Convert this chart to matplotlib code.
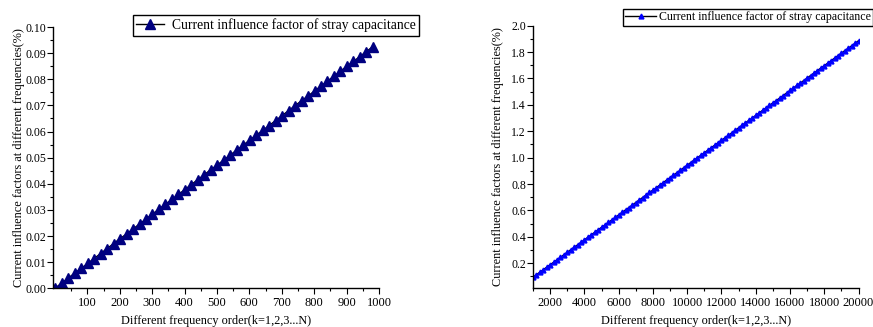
import matplotlib
matplotlib.use("Agg")
import matplotlib.pyplot as plt
from matplotlib.ticker import FixedLocator, MultipleLocator, FormatStrFormatter

plt.rcParams["font.family"] = ["Liberation Serif", "DejaVu Serif"]

LEGEND_LABEL = "Current influence factor of stray capacitance"
X_LABEL = "Different frequency order(k=1,2,3...N)"
Y_LABEL = "Current influence factors at different frequencies(%)"

# left panel: low orders
low_k = list(range(1, 1000, 20))
low_factor = [
    0.0001, 0.0020, 0.0039, 0.0058, 0.0076, 0.0095, 0.0114, 0.0133, 0.0152, 0.0171,
    0.0190, 0.0208, 0.0227, 0.0246, 0.0265, 0.0284, 0.0303, 0.0322, 0.0340, 0.0359,
    0.0378, 0.0397, 0.0416, 0.0435, 0.0454, 0.0472, 0.0491, 0.0510, 0.0529, 0.0548,
    0.0567, 0.0586, 0.0604, 0.0623, 0.0642, 0.0661, 0.0680, 0.0699, 0.0718, 0.0736,
    0.0755, 0.0774, 0.0793, 0.0812, 0.0831, 0.0850, 0.0868, 0.0887, 0.0906, 0.0925,
]

# right panel: high orders
high_k = list(range(1000, 20001, 200))
high_factor = [
    0.094, 0.113, 0.132, 0.151, 0.170, 0.189, 0.207, 0.226, 0.245, 0.264,
    0.283, 0.302, 0.321, 0.339, 0.358, 0.377, 0.396, 0.415, 0.434, 0.453,
    0.472, 0.490, 0.509, 0.528, 0.547, 0.566, 0.585, 0.604, 0.622, 0.641,
    0.660, 0.679, 0.698, 0.717, 0.736, 0.754, 0.773, 0.792, 0.811, 0.830,
    0.849, 0.868, 0.886, 0.905, 0.924, 0.943, 0.962, 0.981, 1.000, 1.018,
    1.037, 1.056, 1.075, 1.094, 1.113, 1.132, 1.150, 1.169, 1.188, 1.207,
    1.226, 1.245, 1.264, 1.282, 1.301, 1.320, 1.339, 1.358, 1.377, 1.396,
    1.415, 1.433, 1.452, 1.471, 1.490, 1.509, 1.528, 1.547, 1.565, 1.584,
    1.603, 1.622, 1.641, 1.660, 1.679, 1.697, 1.716, 1.735, 1.754, 1.773,
    1.792, 1.811, 1.829, 1.848, 1.867, 1.886,
]

W, H = 873, 327
fig = plt.figure(figsize=(W / 100, H / 100), dpi=100)


def style_axes(ax):
    for side in ("top", "right"):
        ax.spines[side].set_visible(False)
    for side in ("left", "bottom"):
        ax.spines[side].set_linewidth(1.0)
    ax.tick_params(which="major", direction="out", length=4, width=0.8, labelsize=9.0, pad=2)
    ax.tick_params(axis="y", which="major", labelsize=8.5, pad=1)
    ax.tick_params(which="minor", direction="out", length=2, width=0.8)
    ax.set_xlabel(X_LABEL, fontsize=8.8, labelpad=4.5)
    ax.set_ylabel(Y_LABEL, fontsize=8.8)
    ax.yaxis.set_label_coords(-0.088, 0.5)


ax1 = fig.add_axes([53.3 / W, 1 - 288.3 / H, (379 - 53.3) / W, (288.3 - 27) / H])
ax1.plot(low_k, low_factor, color="black", lw=1.0, marker="^", markersize=7.5,
         markerfacecolor="#000080", markeredgecolor="#000080", label=LEGEND_LABEL)
ax1.set_xlim(-5, 1000)
ax1.set_ylim(0, 0.10)
ax1.xaxis.set_major_locator(FixedLocator(list(range(100, 1001, 100))))
ax1.xaxis.set_minor_locator(FixedLocator(list(range(50, 1000, 100))))
ax1.yaxis.set_major_locator(MultipleLocator(0.01))
ax1.yaxis.set_minor_locator(MultipleLocator(0.005))
ax1.yaxis.set_major_formatter(FormatStrFormatter("%.2f"))
style_axes(ax1)
leg1 = ax1.legend(loc="upper right", bbox_to_anchor=(419 / W, 1 - 15 / H),
                  bbox_transform=fig.transFigure, fontsize=9.8, frameon=True, fancybox=False,
                  edgecolor="black", framealpha=1, handlelength=2.0, handletextpad=0.6,
                  borderpad=0.25, borderaxespad=0, markerscale=0.9)
leg1.get_frame().set_linewidth(1.0)

ax2 = fig.add_axes([533 / W, 1 - 288.3 / H, (858.5 - 533) / W, (288.3 - 25.7) / H])
ax2.plot(high_k, high_factor, color="black", lw=1.0, marker="^", markersize=3.5,
         markerfacecolor="#0000FF", markeredgecolor="#0000FF", label=LEGEND_LABEL)
ax2.set_xlim(1000, 20000)
ax2.set_ylim(0.01, 2.0)
ax2.xaxis.set_major_locator(FixedLocator(list(range(2000, 20001, 2000))))
ax2.xaxis.set_minor_locator(FixedLocator(list(range(1000, 20000, 2000))))
ax2.yaxis.set_major_locator(FixedLocator([0.2, 0.4, 0.6, 0.8, 1.0, 1.2, 1.4, 1.6, 1.8, 2.0]))
ax2.yaxis.set_minor_locator(FixedLocator([0.1, 0.3, 0.5, 0.7, 0.9, 1.1, 1.3, 1.5, 1.7, 1.9]))
ax2.yaxis.set_major_formatter(FormatStrFormatter("%.1f"))
style_axes(ax2)
leg2 = ax2.legend(loc="upper left", bbox_to_anchor=(623 / W, 1 - 9 / H),
                  bbox_transform=fig.transFigure, fontsize=8.6, frameon=True, fancybox=False,
                  edgecolor="black", framealpha=1, handlelength=2.6, handletextpad=0.2,
                  borderpad=0.2, borderaxespad=0)
leg2.get_frame().set_linewidth(1.0)

fig.savefig("out.png", dpi=100)
